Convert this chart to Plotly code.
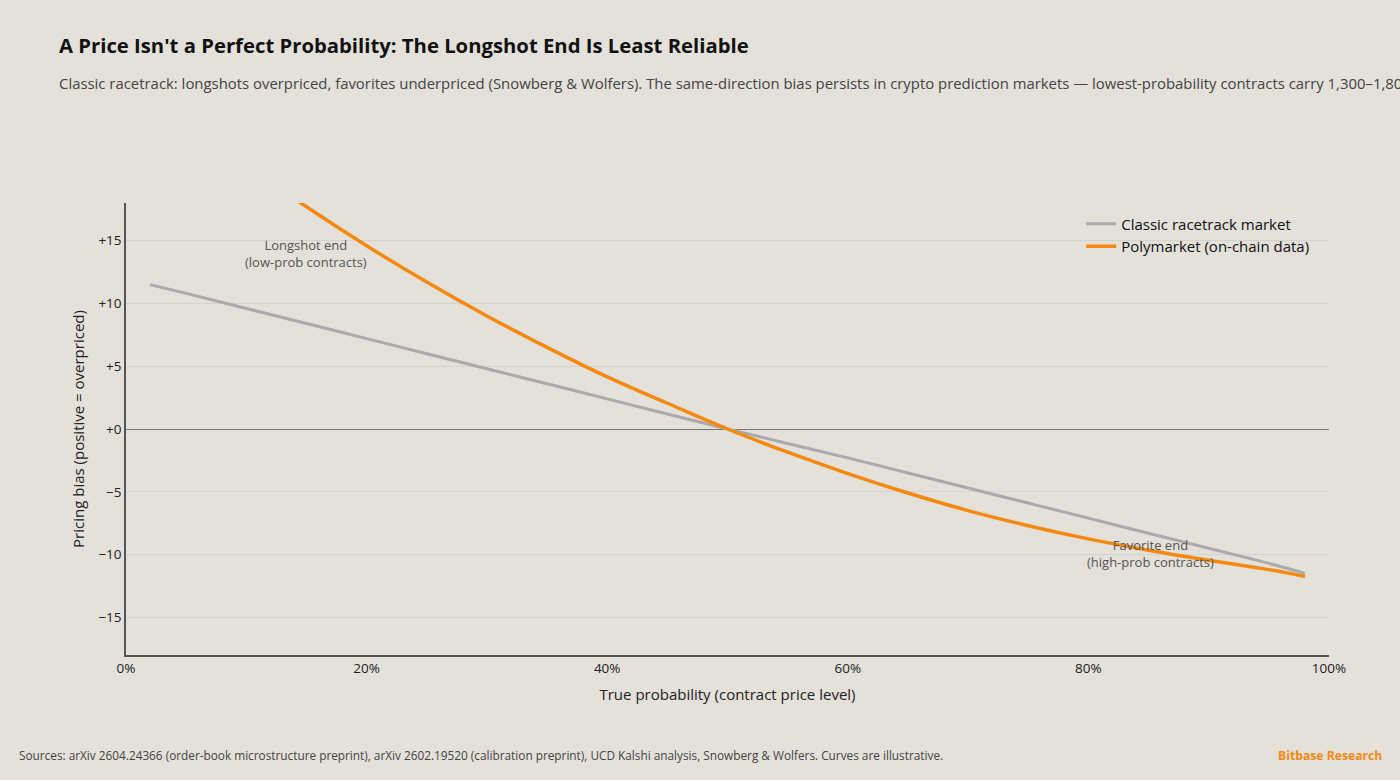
import plotly.graph_objects as go

# True probability (%) and pricing bias (pts)
prob = [2, 5, 10, 15, 20, 25, 30, 35, 40, 45, 50, 55, 60, 65, 70, 75, 80, 85, 90, 95, 98]
racetrack_bias = [11.5, 10.8, 9.6, 8.4, 7.2, 6.0, 4.8, 3.6, 2.4, 1.2, 0.0, -1.15, -2.3,
                  -3.5, -4.7, -5.9, -7.1, -8.3, -9.5, -10.7, -11.5]
polymarket_bias = [26.7, 24.5, 21.0, 17.7, 14.6, 11.7, 9.0, 6.5, 4.15, 2.05, 0.0, -1.85, -3.55,
                   -5.1, -6.5, -7.7, -8.75, -9.65, -10.45, -11.2, -11.75]

BG = '#e4e0da'
ORANGE = '#f5890f'
GREY = '#aaaaaa'
FONT = 'Open Sans'

fig = go.Figure()

fig.add_trace(go.Scatter(
    x=prob, y=racetrack_bias,
    mode='lines', line=dict(color=GREY, width=3, shape='spline', smoothing=1),
    name='Classic racetrack market'
))
fig.add_trace(go.Scatter(
    x=prob, y=polymarket_bias,
    mode='lines', line=dict(color=ORANGE, width=3.5, shape='spline', smoothing=1),
    name='Polymarket (on-chain data)'
))

# curve annotations
fig.add_annotation(x=15, y=14, text='Longshot end<br>(low-prob contracts)',
                   showarrow=False, font=dict(size=13, color='#555555', family=FONT))
fig.add_annotation(x=85.2, y=-9.9, text='Favorite end<br>(high-prob contracts)',
                   showarrow=False, font=dict(size=13, color='#555555', family=FONT))

# title, subtitle, footer
fig.add_annotation(xref='paper', yref='paper', x=-0.0575, y=1.35, xanchor='left', yanchor='middle',
                   text='<b>A Price Isn\'t a Perfect Probability: The Longshot End Is Least Reliable</b>',
                   showarrow=False, font=dict(size=20.3, color='#111111', family=FONT))
fig.add_annotation(xref='paper', yref='paper', x=-0.0575, y=1.265, xanchor='left', yanchor='middle',
                   text='Classic racetrack: longshots overpriced, favorites underpriced (Snowberg &amp; Wolfers). '
                        'The same-direction bias persists in crypto prediction markets \u2014 '
                        'lowest-probability contracts carry 1,300\u20131,800 bps of excess pricing.',
                   showarrow=False, font=dict(size=14.9, color='#444444', family=FONT))
fig.add_annotation(xref='paper', yref='paper', x=-0.0905, y=-0.222, xanchor='left', yanchor='middle',
                   text='Sources: arXiv 2604.24366 (order-book microstructure preprint), arXiv 2602.19520 '
                        '(calibration preprint), UCD Kalshi analysis, Snowberg &amp; Wolfers. Curves are illustrative.',
                   showarrow=False, font=dict(size=11.8, color='#444444', family=FONT))
fig.add_annotation(xref='paper', yref='paper', x=1.0455, y=-0.222, xanchor='right', yanchor='middle',
                   text='<b>Bitbase Research</b>',
                   showarrow=False, font=dict(size=12.2, color=ORANGE, family=FONT))

fig.update_layout(
    width=1400, height=780,
    paper_bgcolor=BG, plot_bgcolor=BG,
    margin=dict(l=126, r=71, t=203, b=125),
    font=dict(family=FONT, color='#222222', size=13),
    showlegend=True,
    legend=dict(x=0.794, y=0.99, xanchor='left', yanchor='top', bgcolor='rgba(0,0,0,0)',
                font=dict(size=15, color='#111111'), itemwidth=30, tracegroupgap=2),
)

fig.update_xaxes(
    range=[0, 100], dtick=20, ticksuffix='%',
    showline=True, linecolor='#555555', linewidth=1.5,
    showgrid=False, zeroline=False, ticks='',
    title=dict(text='True probability (contract price level)', font=dict(size=15, color='#222222'), standoff=14),
    tickfont=dict(size=13.5, color='#222222'),
)
fig.update_yaxes(
    range=[-18, 18], tickvals=[-15, -10, -5, 0, 5, 10, 15], tickformat='+',
    showline=True, linecolor='#555555', linewidth=1.5,
    showgrid=True, gridcolor='rgba(0,0,0,0.06)', gridwidth=1,
    zeroline=True, zerolinecolor='#777777', zerolinewidth=1.2,
    title=dict(text='Pricing bias (positive = overpriced)', font=dict(size=15, color='#222222'), standoff=10),
    tickfont=dict(size=13.5, color='#222222'),
)

fig.write_html('out.html', config={'displayModeBar': False},
               post_script="document.body.style.margin='0';")
